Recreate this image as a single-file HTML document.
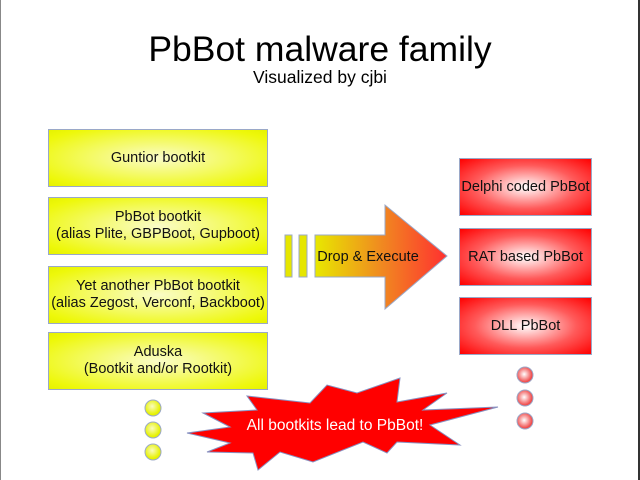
<!DOCTYPE html><html><head><style>
body{margin:0;width:640px;height:480px;background:#fff;position:relative;overflow:hidden;font-family:"Liberation Sans",sans-serif}
.b{position:absolute;display:flex;align-items:center;justify-content:center;text-align:center;font-size:14.5px;color:#111;line-height:17px;box-sizing:border-box;border:1px solid #9aa8c8;white-space:nowrap}
.y{left:48px;width:220px;height:58px;background:radial-gradient(ellipse at center,#fafcc8 0%,#eef80a 85%,#e6f200 100%)}
.r{left:459px;width:133px;height:58px;background:radial-gradient(ellipse at center,#fff 0%,#ff5a5a 55%,#f00 100%)}
</style></head><body>
<div style="position:absolute;left:0;top:0;width:1px;height:480px;background:#888"></div>
<div style="position:absolute;left:638px;top:0;width:2px;height:480px;background:#333"></div>
<div style="position:absolute;left:0;width:640px;top:29px;text-align:center;font-size:35.5px">PbBot malware family</div>
<div style="position:absolute;left:0;width:640px;top:67px;text-align:center;font-size:17.5px">Visualized by cjbi</div>
<div class="b y" style="top:129px">Guntior bootkit</div>
<div class="b y" style="top:197px">PbBot bootkit<br>(alias Plite, GBPBoot, Gupboot)</div>
<div class="b y" style="top:266px">Yet another PbBot bootkit<br>(alias Zegost, Verconf, Backboot)</div>
<div class="b y" style="top:332px">Aduska<br>(Bootkit and/or Rootkit)</div>
<div class="b r" style="top:158px">Delphi coded PbBot</div>
<div class="b r" style="top:228px">RAT based PbBot</div>
<div class="b r" style="top:297px">DLL PbBot</div>
<svg width="640" height="480" style="position:absolute;left:0;top:0">
<defs>
<linearGradient id="ag" x1="0" x2="1"><stop offset="0" stop-color="#e8e800"/><stop offset="0.5" stop-color="#f08a20"/><stop offset="1" stop-color="#ff3030"/></linearGradient>
<radialGradient id="yd" cx="0.45" cy="0.4"><stop offset="0" stop-color="#fafcc0"/><stop offset="1" stop-color="#e6f200"/></radialGradient>
<radialGradient id="rd" cx="0.45" cy="0.45"><stop offset="0" stop-color="#fff"/><stop offset="1" stop-color="#f04848"/></radialGradient>
</defs>
<rect x="285" y="235" width="7" height="42" fill="#e6e600" stroke="#9aa8c8"/>
<rect x="299" y="235" width="8" height="42" fill="#e6e600" stroke="#9aa8c8"/>
<polygon points="315,235 385,235 385,205 447,256 385,309 385,277 315,277" fill="url(#ag)" stroke="#9aa8c8"/>
<text x="368" y="261" font-size="14.5" text-anchor="middle" fill="#111" font-family="Liberation Sans">Drop &amp; Execute</text>
<g stroke="#9aa8c8" stroke-width="1">
<circle cx="153" cy="408" r="8" fill="url(#yd)"/><circle cx="153" cy="430" r="8" fill="url(#yd)"/><circle cx="153" cy="452" r="8" fill="url(#yd)"/>
<circle cx="525" cy="375" r="8" fill="url(#rd)"/><circle cx="525" cy="398" r="8" fill="url(#rd)"/><circle cx="525" cy="421" r="8" fill="url(#rd)"/>
</g>
<polygon points="203,413 257,410 247,396 310,403 327,385 357,393 400,378 397,402 447,393 423,410 498,407 430,425 460,445 397,442 387,453 363,442 313,462 280,452 258,470 253,453 207,452 230,443 187,433 230,427" fill="#f00" stroke="#8890c0"/>
<text x="335" y="430" font-size="15.5" text-anchor="middle" fill="#fff" font-family="Liberation Sans">All bootkits lead to PbBot!</text>
</svg>
</body></html>
